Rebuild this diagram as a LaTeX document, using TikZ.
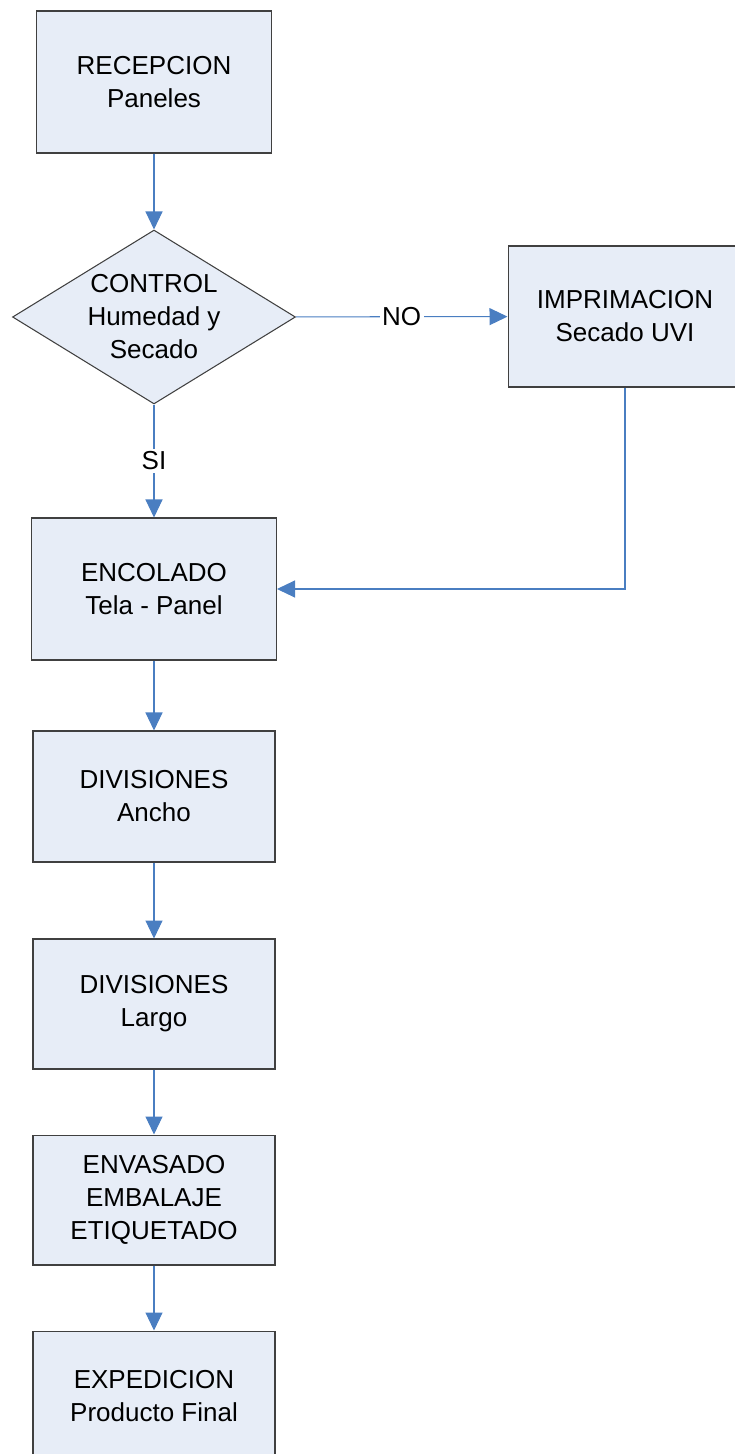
\documentclass[tikz,border=0pt]{standalone}
\usepackage{fontspec}
\setmainfont{Liberation Sans}
\usetikzlibrary{arrows.meta,shapes.geometric}

\definecolor{boxfill}{RGB}{231,237,247}
\definecolor{boxline}{RGB}{64,64,64}
\definecolor{flowblue}{RGB}{74,126,193}

\tikzset{
  proc/.style={draw=boxline, fill=boxfill, line width=0.6pt, align=center,
    inner sep=0pt, font=\fontsize{14.8}{18.8}\selectfont},
  flow/.style={draw=flowblue, line width=0.6pt,
    -{Triangle[length=0.36cm,width=0.34cm]}},
  tag/.style={fill=white, inner sep=1.5pt, font=\fontsize{14.8}{18.8}\selectfont}
}

\begin{document}
\begin{tikzpicture}[x=0.02cm,y=-0.02cm]

  \useasboundingbox (0,0) rectangle (734,1454);

  \node[proc, minimum width=4.7cm, minimum height=2.84cm] (rec) at (154,82) {RECEPCION\\Paneles};
  \node[proc, diamond, aspect=1.63, minimum width=5.66cm, minimum height=3.48cm] (ctl) at (154,317) {CONTROL\\Humedad y\\Secado};
  \node[proc, minimum width=4.68cm, minimum height=2.82cm] (imp) at (625,316.5) {IMPRIMACION\\Secado UVI};
  \node[proc, minimum width=4.9cm, minimum height=2.84cm] (enc) at (154,589) {ENCOLADO\\Tela - Panel};
  \node[proc, minimum width=4.84cm, minimum height=2.62cm] (anc) at (154,796.5) {DIVISIONES\\Ancho};
  \node[proc, minimum width=4.84cm, minimum height=2.6cm] (lar) at (154,1004) {DIVISIONES\\Largo};
  \node[proc, minimum width=4.84cm, minimum height=2.6cm] (env) at (154,1200) {ENVASADO\\EMBALAJE\\ETIQUETADO};
  \node[proc, minimum width=4.84cm, minimum height=2.6cm] (exp) at (154,1396) {EXPEDICION\\Producto Final};

  \draw[flow] (rec) -- (ctl);
  \draw[flow] (ctl) -- node[tag]{NO} (imp);
  \draw[flow] (ctl) -- node[tag]{SI} (enc);
  \draw[flow] (imp.south) |- (enc.east);
  \draw[flow] (enc) -- (anc);
  \draw[flow] (anc) -- (lar);
  \draw[flow] (lar) -- (env);
  \draw[flow] (env) -- (exp);

\end{tikzpicture}
\end{document}
